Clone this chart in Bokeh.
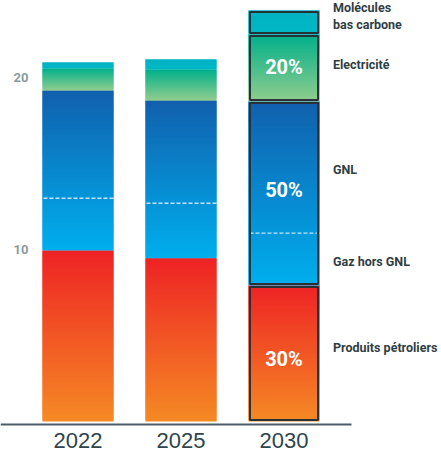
import numpy as np
from bokeh.plotting import figure
from bokeh.models import ColumnDataSource, LabelSet, Range1d
from bokeh.core.properties import value
from bokeh.embed import file_html
from bokeh.resources import INLINE

# ---------------- data ----------------
years = ["2022", "2025", "2030"]
petroliers = [9.94, 9.49, 7.91]
gaz_hors_gnl = [3.04, 3.20, 3.04]
gnl = [6.26, 5.97, 7.65]
electricite = [1.28, 1.81, 3.90]
molecules = [0.35, 0.58, 1.40]
pct_labels = ["30%", "50%", "20%"]          # 2030: pétroliers, gaz, électricité
cat_labels = ["Produits pétroliers", "Gaz hors GNL", "GNL", "Electricité",
              "Molécules", "bas carbone"]
y_ticks = [10, 20]

# ---------------- style ----------------
grad = {  # bottom colour, top colour
    "pet": ("#F58A24", "#EE2325"),
    "gaz": ("#00AFEE", "#1160AD"),
    "elec": ("#92CD8D", "#00B08C"),
    "mol": ("#00B8C6", "#00B2C2"),
}
W = 0.69
STEP = 0.06
PX_X = 103.0      # pixels per category
PX_Y = 17.2       # pixels per unit
FIG_W, FIG_H = 441, 452
X0_PX = 77.5      # first bar centre, from the canvas left
Y0_PX = 421.0     # value 0, from the canvas top

x_start = -X0_PX / PX_X
y_start = -(FIG_H - Y0_PX) / PX_Y
p = figure(width=FIG_W, height=FIG_H,
           x_range=Range1d(x_start, x_start + FIG_W / PX_X),
           y_range=Range1d(y_start, y_start + FIG_H / PX_Y),
           x_axis_location=None, y_axis_location=None,
           toolbar_location=None, output_backend="svg",
           min_border=0)
p.grid.visible = False
p.outline_line_color = None
p.background_fill_color = "white"
p.border_fill_color = "white"


def hex2rgb(h):
    return np.array([int(h[i:i + 2], 16) for i in (1, 3, 5)], float)


def rgb2hex(c):
    c = np.clip(np.round(c), 0, 255).astype(int)
    return "#%02x%02x%02x" % tuple(c)


# gradient slices
L, R, B, T, C = [], [], [], [], []
for i in range(len(years)):
    segs = [(petroliers[i], "pet"), (gaz_hors_gnl[i] + gnl[i], "gaz"),
            (electricite[i], "elec"), (molecules[i], "mol")]
    base = 0.0
    for h, key in segs:
        n = max(2, int(np.ceil(h / STEP)))
        c0, c1 = hex2rgb(grad[key][0]), hex2rgb(grad[key][1])
        for k in range(n):
            b = base + h * k / n
            t = base + h * min(k + 2, n) / n
            f = (k + 0.5) / n
            L.append(i - W / 2)
            R.append(i + W / 2)
            B.append(b)
            T.append(t)
            C.append(rgb2hex(c0 * (1 - f) + c1 * f))
        base += h

p.quad(left="l", right="r", bottom="b", top="t", fill_color="c", line_color=None,
       source=ColumnDataSource(dict(l=L, r=R, b=B, t=T, c=C)))

# dashed separation GNL / hors GNL
xs = np.arange(len(years))
split = np.array(petroliers) + np.array(gaz_hors_gnl)
p.segment(x0=xs - W / 2 + 0.01, x1=xs + W / 2, y0=split, y1=split,
          line_color="white", line_alpha=0.75, line_width=1.3, line_dash="4 2")

# 2030 outlined boxes
j = 2
bounds = np.cumsum([0, petroliers[j], gaz_hors_gnl[j] + gnl[j], electricite[j], molecules[j]])
dx = 1.5 / PX_X
dy = 1.5 / PX_Y
p.quad(left=[j - W / 2 + dx] * 4, right=[j + W / 2 - dx] * 4,
       bottom=list(bounds[:-1] + dy), top=list(bounds[1:] - dy),
       fill_color=None, line_color="#263238", line_width=2)

# baseline (x axis line)
base_y = -3 / PX_Y
p.segment(x0=[x_start], x1=[x_start + 351 / PX_X], y0=[base_y], y1=[base_y],
          line_color="#4B5E65", line_width=2)

# year labels under the baseline
yr_src = ColumnDataSource(dict(x=list(xs), y=[base_y] * len(years), t=years))
p.add_layout(LabelSet(x="x", y="y", text="t", y_offset=-23.5, source=yr_src,
                      text_align="center", text_baseline="alphabetic",
                      text_color="#2E454E", text_font=value("Liberation Sans"),
                      text_font_size="22px"))

# percent labels inside 2030 bar
mids = (bounds[:-1] + bounds[1:]) / 2
pct_src = ColumnDataSource(dict(x=[j] * 3, y=list(mids[:3]), t=pct_labels, yo=[-6, 4, 1]))
p.add_layout(LabelSet(x="x", y="y", text="t", y_offset="yo", source=pct_src,
                      text_align="center", text_baseline="middle",
                      text_color="white", text_font=value("Roboto"),
                      text_font_style="bold", text_font_size="20px"))

# category labels right of 2030 bar
pet_c = petroliers[j] / 2
ghg_c = petroliers[j] + gaz_hors_gnl[j] / 2
gnl_c = petroliers[j] + gaz_hors_gnl[j] + gnl[j] / 2
cat_y = [pet_c, ghg_c, gnl_c, mids[2], mids[3], mids[3]]
cat_yo = [6, -2, -2, 3.5, 15, -2]
cat_src = ColumnDataSource(dict(x=[j] * 6, y=cat_y, t=cat_labels, yo=cat_yo))
p.add_layout(LabelSet(x="x", y="y", text="t", x_offset=49, y_offset="yo", source=cat_src,
                      text_align="left", text_baseline="middle",
                      text_color="#2F3E44", text_font=value("Roboto"),
                      text_font_style="bold", text_font_size="12.5px"))

# y tick labels
ytk_src = ColumnDataSource(dict(x=[20.5] * len(y_ticks), y=y_ticks, t=[str(v) for v in y_ticks]))
p.add_layout(LabelSet(x="x", y="y", x_units="screen", text="t", source=ytk_src,
                      text_align="center", text_baseline="middle",
                      text_color="#8A9BA2", text_font=value("Roboto"),
                      text_font_style="bold", text_font_size="13px"))

open("out.html", "w").write(file_html(p, INLINE))
